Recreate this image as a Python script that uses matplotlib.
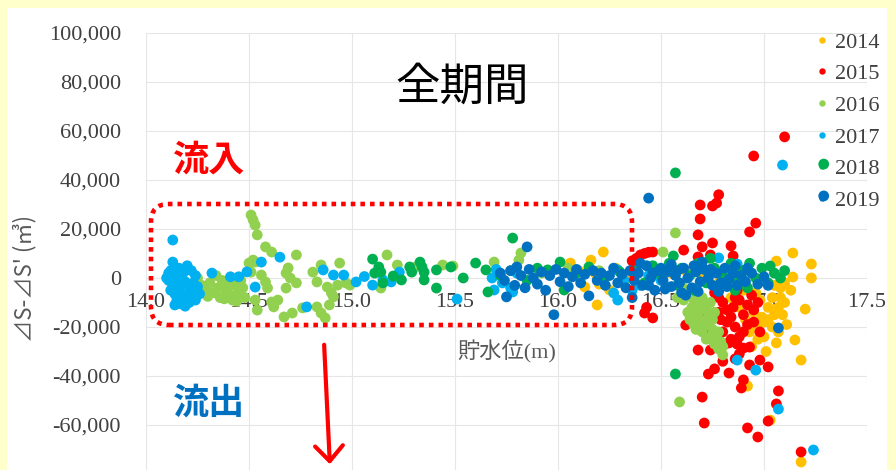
import matplotlib
matplotlib.use("Agg")
import matplotlib.pyplot as plt
from matplotlib.lines import Line2D
from matplotlib.patches import FancyBboxPatch, FancyArrowPatch, Rectangle
from matplotlib.transforms import IdentityTransform

# ---- data: (water level m, dS-dS' m3) ----
years = ["2014", "2015", "2016", "2017", "2018", "2019"]
colors = ["#FFC000", "#FF0000", "#92D050", "#00B0F0", "#00B050", "#0070C0"]

pts_2014 = [
    (16.06, 6100), (16.10, 3000), (16.13, -3700), (16.16, 7300), (16.18, 2000),
    (16.19, -11000), (16.20, -2500), (16.22, 10600), (16.25, -4900), (16.28, 4000),
    (16.32, -2000), (16.35, 1500), (16.55, 2000), (16.62, 3000), (16.70, 1000),
    (16.78, -2000), (16.85, -3000), (16.90, -5000), (16.93, -22000), (16.95, -14000),
    (16.96, -6000), (16.97, -20000), (16.98, -9000), (16.99, -16000), (17.00, -18000),
    (17.00, -24000), (17.02, -12000), (17.04, -20000), (17.05, -15000), (17.05, -3000),
    (17.06, -26500), (17.06, 6900), (17.07, -22000), (17.08, -8000), (17.09, -15000),
    (17.10, -2000), (17.10, -10000), (17.13, -5000), (17.14, 10200), (17.14, 400),
    (17.15, -25300), (17.18, -33500), (17.18, -75100), (17.20, -12700), (17.23, 5700),
    (17.23, 0), (16.92, -44100), (17.03, -58000), (16.88, -12000), (16.84, -8000),
    (16.94, -28000), (17.01, -30000), (17.11, -19000), (17.04, -8000), (17.07, -12000),
    (16.97, -25000), (17.02, -17000), (17.08, -4000), (16.91, -17000),
]
pts_2015 = [
    (17.10, 57600), (16.95, 49800), (16.78, 34000), (16.77, 30600), (16.75, 29400),
    (16.69, 29800), (16.69, 24100), (16.68, 17600), (16.75, 14300), (16.70, 12700),
    (16.61, 11400), (16.84, 13100), (16.85, 9000), (16.96, 22400), (16.93, 18800),
    (16.74, 9400), (16.68, 8600), (16.36, 7000), (16.38, 8000), (16.40, 9400),
    (16.42, 10000), (16.44, 10500), (16.39, 6000), (16.46, 10600),
    (16.42, -14300), (16.46, -16300), (16.43, -12000), (16.62, -19200), (16.68, -29400),
    (16.74, -29400), (16.76, -37100), (16.73, -39200), (16.83, -38800), (16.83, -26500),
    (16.90, -28600), (16.93, -28200), (16.90, -41600), (16.89, -44900), (16.93, -35500),
    (16.98, -33500), (17.02, -36300), (16.70, -48600), (16.71, -59200), (16.92, -61200),
    (16.97, -64900), (17.02, -58400), (17.06, -51400), (17.07, -46100), (17.18, -71000),
    (16.78, -8000), (16.80, -10000), (16.82, -13000), (16.85, -12000), (16.88, -9000),
    (16.90, -15000), (16.92, -11000), (16.95, -13000), (16.82, -18000), (16.86, -20000),
    (16.90, -22000), (16.95, -18000), (16.98, -22000), (16.80, -22000), (16.84, -25000),
    (16.78, -14000), (16.76, -6000), (16.73, -22000), (16.71, -17000), (16.88, -31000),
    (16.86, -33000), (16.80, -34000), (16.87, -5000), (16.94, -7000),
    (16.84, -16000), (16.88, -24000), (16.92, -19000), (16.81, -27000), (16.86, -8000),
    (16.97, -10000), (16.79, -17000), (16.87, -27000),
]
pts_2016 = [
    (14.25, 0), (14.26, -6000), (14.27, -3000), (14.29, -5000), (14.30, -7500),
    (14.31, -2000), (14.33, -6000), (14.34, 1000), (14.35, -4000), (14.36, -8000),
    (14.37, -1000), (14.38, -8500), (14.39, -5000), (14.40, -2500), (14.41, -7000),
    (14.42, -9000), (14.43, -3000), (14.44, -9500), (14.45, -6000), (14.46, -1000),
    (14.47, -4000), (14.48, -8000),
    (14.51, 25700), (14.52, 23700), (14.53, 21600), (14.54, 17600), (14.58, 12700),
    (14.61, 10600), (14.50, 6100), (14.53, 6500), (14.52, 7300), (14.51, 2400),
    (14.56, 1200), (14.58, -1600), (14.59, -4100), (14.61, -9800), (14.64, -9000),
    (14.62, -11800), (14.53, -9000), (14.54, -13100), (14.67, -15900), (14.71, -14300),
    (14.76, -12200), (14.83, -11800), (14.85, -14300), (14.87, -16300), (14.73, 9400),
    (14.69, 4100), (14.68, 2000), (14.70, 0), (14.68, -4100), (14.73, -2000),
    (14.81, 2400), (14.85, 5300), (14.83, -1600), (14.88, -3700), (14.90, -6100),
    (14.93, -2900), (14.94, 6100), (14.97, -2000), (14.99, -2900), (14.91, -7700),
    (14.89, -11000), (15.14, -4100), (15.17, 9400), (15.22, 5300), (15.31, 4500),
    (15.44, 5300), (15.49, 4900), (15.69, 6500), (15.81, 7300), (15.82, 10200),
    (15.77, 3000), (15.92, 2000), (16.05, 4000), (16.20, 3000), (16.51, 10600),
    (16.57, 18400), (16.59, -50600),
    (16.61, -9000), (16.62, -6000), (16.64, -5000), (16.63, -14000), (16.64, -17000),
    (16.65, -12000), (16.66, -9000), (16.66, -19000), (16.67, -15000), (16.68, -11000),
    (16.69, -17000), (16.70, -8000), (16.70, -22000), (16.71, -19000), (16.72, -13000),
    (16.72, -25000), (16.73, -16000), (16.74, -24000), (16.75, -21000), (16.76, -27000),
    (16.77, -23000), (16.78, -29000), (16.79, -26000), (16.80, -31400), (16.60, -3000),
    (16.58, -8000), (16.68, -6000), (16.74, -10000), (16.76, -14000),
    (16.69, -13000), (16.71, -10000), (16.73, -19000), (16.75, -17000), (16.78, -22000),
    (16.80, -28000), (16.67, -21000),
]
pts_2017 = [
    (14.13, 15500), (14.13, 6500), (14.10, 0), (14.11, 2000), (14.12, 3000),
    (14.14, 1500), (14.16, 4000), (14.18, 2000), (14.20, 5000), (14.22, 3000),
    (14.24, 1000), (14.11, -1000), (14.13, -2500), (14.15, -500), (14.17, -3000),
    (14.19, -1500), (14.21, -4000), (14.23, -2000), (14.12, -5000), (14.14, -6500),
    (14.16, -5500), (14.18, -7000), (14.20, -8500), (14.22, -6000), (14.15, -9000),
    (14.17, -10500), (14.19, -11500), (14.14, -11000), (14.21, -10000), (14.25, -3500),
    (14.26, -6500), (14.24, -9000),
    (14.32, 2000), (14.41, 500), (14.45, 500), (14.49, 2500), (14.56, 6500),
    (14.53, -3700), (14.65, 8500), (14.78, -11800), (14.86, 3300), (14.91, 1200),
    (14.96, 1200), (15.02, -1600), (15.06, 600), (15.10, -2900), (15.15, -800),
    (15.19, -1600), (15.23, 2400), (15.51, -8600), (15.68, 0), (15.69, -4900),
    (15.73, -2000), (15.77, -4000), (15.78, -5700), (15.80, 2000), (15.70, 3500),
    (16.29, 3300), (16.29, -9000), (16.27, -6100), (16.32, -800), (16.38, 2000),
    (16.40, -3000), (16.44, 1000), (16.36, -5000), (16.47, 3000), (16.50, -1000),
    (17.09, 46100), (16.78, 8200), (16.87, 5700), (16.87, -33500), (16.96, -37600),
    (17.07, -53500), (17.24, -70200),
]
pts_2018 = [
    (15.10, 7700), (15.13, 4500), (15.14, 2400), (15.11, 2000), (15.15, -2000),
    (15.20, 800), (15.24, -800), (15.28, 4500), (15.29, 2400), (15.33, 6500),
    (15.34, 4500), (15.35, 2400), (15.35, -800), (15.41, 3300), (15.41, -4100),
    (15.48, 4500), (15.54, 0), (15.60, 6100), (15.65, 3300), (15.66, -5700),
    (15.78, 16300), (15.95, 3300), (16.01, 6500), (16.03, -4900), (16.09, 2000),
    (15.72, 1000), (15.85, -1000), (15.90, 4000), (16.15, 4500), (16.22, -1000),
    (16.30, 2500),
    (16.38, 3000), (16.42, -2000), (16.46, 5000), (16.50, 1000), (16.54, 6000),
    (16.58, -3000), (16.60, 4000), (16.64, 1000), (16.68, 6000), (16.72, -2000),
    (16.76, 4000), (16.80, 1000), (16.84, 6000), (16.88, -1000), (16.90, 3000),
    (16.93, 6000), (16.96, 0), (16.99, 4000), (17.02, -2000), (17.03, 4900),
    (17.05, 2000), (17.08, 0), (17.10, 3000), (16.86, -5000), (16.92, -4000),
    (16.56, 9000), (16.66, -5000), (16.74, 8000),
    (16.57, 42900), (17.29, 46500), (16.57, -39200),
]
pts_2019 = [
    (15.75, -7700), (15.80, 4500), (15.85, 12700), (15.98, -15000), (15.72, 2000),
    (15.74, -1000), (15.77, 3000), (15.79, -3000), (15.82, 1000), (15.84, -4000),
    (15.86, 3500), (15.88, 0), (15.90, -2500), (15.92, 2500), (15.94, -5000),
    (15.96, 1000), (15.99, 3500), (16.01, -1500), (16.03, 2000), (16.05, -3500),
    (16.07, 500), (16.09, 3500), (16.11, -2000), (16.13, 1500), (16.15, -7300),
    (16.17, 3000), (16.19, -1000), (16.21, 2000), (16.23, -3000), (16.25, 1000),
    (16.27, 4000), (16.29, -2000), (16.31, 1500), (16.33, -4000), (16.35, 3000),
    (16.37, -1000), (16.39, 2000), (16.41, -3000), (16.43, 5000), (16.45, 0),
    (16.47, -5000), (16.49, 3000), (16.51, -1000), (16.53, 2500), (16.55, -3500),
    (16.57, 1000), (16.59, -2000), (16.61, 4000), (16.63, 0), (16.65, -4000),
    (16.67, 2500), (16.69, -1500), (16.71, 3500), (16.73, 0), (16.75, -3000),
    (16.77, 2000), (16.79, -2000), (16.81, 4000), (16.83, -500), (16.85, 2000),
    (16.87, -3000), (16.89, 1000), (16.91, -1500), (16.94, 2000), (16.97, -2500),
    (17.00, 500), (17.02, -3000), (16.36, -8000), (16.60, -6000), (16.78, -5500),
    (16.40, 6000), (16.55, 5500), (16.70, 6500), (16.50, 4000), (16.62, -7000),
    (16.86, 5000), (16.46, 2000), (16.58, 3000), (16.66, 5000), (16.74, 3500),
    (16.82, -3500), (16.92, 4000), (16.44, -3000), (16.52, -4500), (16.68, -5500),
    (17.07, -20400), (16.44, 32600), (17.29, 33500),
]
all_pts = [pts_2014, pts_2015, pts_2016, pts_2017, pts_2018, pts_2019]

xticks = [14.0, 14.5, 15.0, 15.5, 16.0, 16.5, 17.0, 17.5]
yticks = [-60000, -40000, -20000, 0, 20000, 40000, 60000, 80000, 100000]

# ---- figure ----
W, H = 896, 470
fig = plt.figure(figsize=(W / 100, H / 100), dpi=100, facecolor="#FFFFCC")
fig.add_artist(Rectangle((7, 0), 880, 462, transform=IdentityTransform(),
                         facecolor="white", edgecolor="none", zorder=-1))

ax = fig.add_axes([146 / W, -4 / H, 721 / W, 441 / H])
ax.set_facecolor("white")

handles = []
for yr, col, pts in zip(years, colors, all_pts):
    xs, ys = zip(*pts)
    ax.scatter(xs, ys, s=60, color=col, edgecolors="none")
    handles.append(Line2D([], [], ls="none", marker="o", markersize=4.6,
                          markerfacecolor=col, markeredgecolor="none", label=yr))

ax.set_xlim(14.0, 17.5)
ax.set_ylim(-80000, 100000)
ax.set_xticks(xticks)
ax.set_xticklabels([f"{v:.1f}" for v in xticks])
ax.set_yticks(yticks)
ax.set_yticklabels([f"{v:,}" for v in yticks])
ax.grid(True, color="#E6E6E6", lw=0.8)
ax.set_axisbelow(True)
for s in ax.spines.values():
    s.set_visible(False)
ax.spines["bottom"].set_position(("data", 0))
ax.tick_params(axis="x", length=0, pad=11, labelsize=16, labelcolor="#404040")
ax.tick_params(axis="y", length=0, pad=18, labelsize=16, labelcolor="#404040")
for lab in ax.get_xticklabels() + ax.get_yticklabels():
    lab.set_family("Liberation Serif")

leg = ax.legend(handles=handles, loc="upper left", bbox_to_anchor=(815 / W, 1 - 32 / H),
                bbox_transform=fig.transFigure, frameon=False,
                prop={"family": "Liberation Serif", "size": 16},
                handlelength=0.6, handletextpad=0.3, labelspacing=0.5,
                borderpad=0, borderaxespad=0)
for t in leg.get_texts():
    t.set_color("#404040")

# texts
fig.text(462 / W, 1 - 87 / H, "全期間", ha="center", va="center", fontsize=32,
         family=["Noto Sans CJK JP", "DejaVu Sans"], color="black")
fig.text(209 / W, 1 - 160 / H, "流入", ha="center", va="center", fontsize=26,
         weight="bold", family=["Noto Sans CJK JP", "DejaVu Sans"], color="#FF0000")
fig.text(209 / W, 1 - 403 / H, "流出", ha="center", va="center", fontsize=26,
         weight="bold", family=["Noto Sans CJK JP", "DejaVu Sans"], color="#0070C0")
fig.text(507 / W, 1 - 352 / H, "貯水位(m)", ha="center", va="center", fontsize=16,
         family=["Liberation Serif", "Noto Sans CJK JP"], color="#595959")
fig.text(25 / W, 1 - 278 / H, "⊿S-⊿S' (㎥)", ha="center", va="center", fontsize=16,
         rotation=90, family=["Noto Sans CJK JP", "DejaVu Sans"], color="#595959")

# dotted highlight box and arrow (pixel coords)
box = FancyBboxPatch((151, H - 325), 481, 121, boxstyle="round,pad=0,rounding_size=18",
                     transform=IdentityTransform(), fill=False, edgecolor="#FF0000",
                     lw=3.3, linestyle=(0, (1, 1.1)), zorder=5)
fig.add_artist(box)
arrow = FancyArrowPatch((324, H - 342), (330, H - 467),
                        arrowstyle="->,head_length=11,head_width=10",
                        transform=IdentityTransform(), color="#FF0000", lw=3, zorder=5)
fig.add_artist(arrow)

fig.savefig("out.png", dpi=100, facecolor=fig.get_facecolor())
